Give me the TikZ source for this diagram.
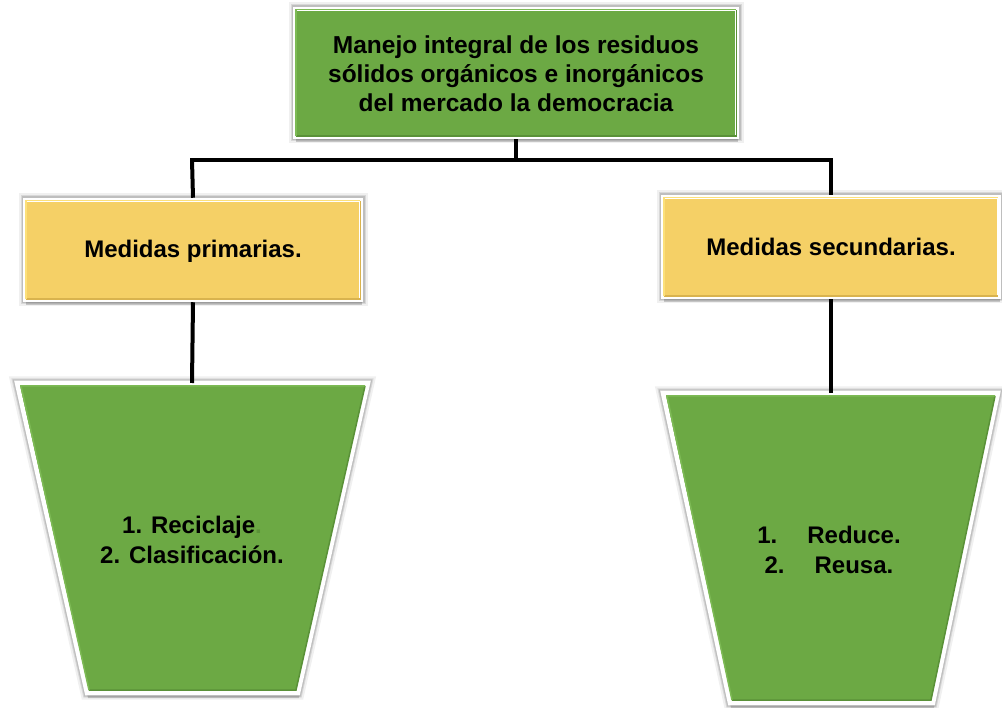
\documentclass[tikz,border=0pt]{standalone}
\usepackage{fontspec}
\setmainfont{Liberation Sans}
\usetikzlibrary{shadows,calc}
\definecolor{grn}{HTML}{6CA944}
\definecolor{grnd}{HTML}{5A9138}
\definecolor{grnl}{HTML}{7DBA55}
\definecolor{yel}{HTML}{F5D066}
\definecolor{yeld}{HTML}{D9B34E}
\definecolor{yell}{HTML}{FCE07A}
\begin{document}
\begin{tikzpicture}[x=1pt,y=-1pt,
  halo/.style={preaction={draw=black, draw opacity=0.06, line width=13pt},
               preaction={draw=black, draw opacity=0.10, line width=9pt},
               preaction={draw=black, draw opacity=0.12, line width=7pt}},
  boxbase/.style={halo, draw=white, line width=4.5pt, inner sep=0pt,
     drop shadow={shadow xshift=1pt, shadow yshift=-5pt, opacity=0.18, fill=black},
     align=center, text=black},
  topbox/.style={boxbase, fill=grn, minimum width=442pt, minimum height=128pt},
  yelbox/.style={boxbase, fill=yel, minimum width=336pt, minimum height=100pt},
  trap/.style={halo, draw=white, line width=4.5pt, fill=grn, line join=miter,
     drop shadow={shadow xshift=1pt, shadow yshift=-5pt, opacity=0.18, fill=black}},
  bevel/.style={line width=1.5pt},
  link/.style={draw=black, line width=4pt},
  txt/.style={font=\bfseries\fontsize{24}{30}\selectfont, align=center, text=black}
]
\useasboundingbox (0,0) rectangle (1002,708);

% top box
\node[topbox] (top) at (516,73) {};
\draw[bevel, grnd] ($(top.south west)+(3,-3)$) -- ($(top.south east)+(-3,-3)$) -- ($(top.north east)+(-3,3)$);
\draw[bevel, grnl] ($(top.south west)+(3,-3)$) -- ($(top.north west)+(3,3)$) -- ($(top.north east)+(-3,3)$);
\node[txt, font=\bfseries\fontsize{24.5}{29}\selectfont] (toptxt) at (516,74)
  {Manejo integral de los residuos\\sólidos orgánicos e inorgánicos\\del mercado la democracia};

% yellow boxes
\node[yelbox] (prim) at (193,250) {};
\draw[bevel, yeld] ($(prim.south west)+(3,-3)$) -- ($(prim.south east)+(-3,-3)$) -- ($(prim.north east)+(-3,3)$);
\draw[bevel, yell] ($(prim.south west)+(3,-3)$) -- ($(prim.north west)+(3,3)$) -- ($(prim.north east)+(-3,3)$);
\node[txt] (primtxt) at (193,251) {Medidas primarias.};

\node[yelbox] (sec) at (831,247) {};
\draw[bevel, yeld] ($(sec.south west)+(3,-3)$) -- ($(sec.south east)+(-3,-3)$);
\draw[bevel, yell] ($(sec.south west)+(3,-3)$) -- ($(sec.north west)+(3,3)$) -- ($(sec.north east)+(-3,3)$);
\node[txt] (sectxt) at (831,247) {Medidas secundarias.};

% trapezoids
\path[trap] (17,383) -- (368,383) -- (298,693) -- (87,693) -- cycle;
\draw[bevel, grnd] (89,690) -- (296,690) -- (365,386);
\draw[bevel, grnl] (89,690) -- (21,386) -- (365,386);
\coordinate (trapL) at (192,383);
\node[txt] (listL) at (192,540) {1. Reciclaje\textcolor{grnd}{.}\\2. Clasificación.};

\path[trap] (663,393) -- (998,393) -- (933,703) -- (730,703) -- cycle;
\draw[bevel, grnd] (732,700) -- (931,700) -- (995,396);
\draw[bevel, grnl] (732,700) -- (667,396) -- (995,396);
\coordinate (trapR) at (831,393);
\node[txt] (listR) at (829,550) {1.\hspace{30pt}Reduce.\\2.\hspace{30pt}Reusa.};

% connectors
\coordinate (hl) at (192,160);
\coordinate (hr) at (831,160);
\coordinate (hm) at (516,160);
\draw[link] (top.south) -- (hm);
\draw[link, line cap=rect] (hl) -- (hr);
\draw[link] (hl) -- (prim.north);
\draw[link] (hr) -- (sec.north);
\draw[link] (prim.south) -- (trapL);
\draw[link] (sec.south) -- (trapR);
\end{tikzpicture}
\end{document}
